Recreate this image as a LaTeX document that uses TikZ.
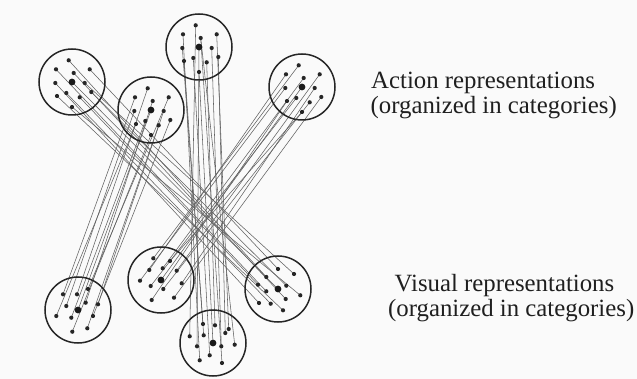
\documentclass[tikz,border=0pt]{standalone}
\usepackage{fontspec}
\setmainfont{Liberation Serif}
\usetikzlibrary{calc}
\tikzset{
  cat/.style={circle, draw=black!85, line width=1.5pt, minimum size=66pt, inner sep=0pt},
  link/.style={draw=black!62, line width=0.55pt},
  txt/.style={font=\fontsize{24.8}{25}\selectfont, anchor=base west, inner sep=0pt, text=black!88},
}
\newcommand\mkdots[3]{%
  \foreach \dx/\dy [count=\i] in {#3} {\coordinate (#1-\i) at ($(#2)+(\dx,\dy)$);}%
  \coordinate (#1-c) at (#2);}
\begin{document}
\begin{tikzpicture}[x=1pt,y=-1pt]
\fill[black!2] (0,0) rectangle (637,379);
\useasboundingbox (0,0) rectangle (637,379);
% centres
\coordinate (cA1) at (72,82);
\coordinate (cA2) at (151,110);
\coordinate (cA3) at (199,47);
\coordinate (cA4) at (302,87);
\coordinate (cV1) at (78,310);
\coordinate (cV2) at (161,280);
\coordinate (cV3) at (213,343);
\coordinate (cV4) at (278,289);
% dots
\foreach \n in {A1,A2,A3,A4}{\mkdots{\n}{c\n}{-3.3/-21.7,-16/-12.7,17.7/-12.7,1.7/-9,-16.7/1,12.7/1,-5.7/11,19.3/10,-15/14,7.7/15.3,0/25}}
\mkdots{V1}{cV1}{-15/-15.7,-1/-15.7,10/-21,-11.7/-4,7.7/-7.3,20/-5.7,-21.7/6,-6.7/7.7,15/6,-5.7/21.7,9.3/18.3}
\mkdots{V2}{cV2}{-7.7/-21.7,9/-19,-11.7/-10,1.7/-11.7,15.7/-9.3,-21/0.7,-10.3/6,2.3/9,20.7/3.3,-9.3/20,13/17.7}
\mkdots{V3}{cV3}{-10/-19,2/-17.7,15.7/-14,-23.3/-6.7,-9.3/-7.7,12.3/-10,-16/3.3,8.3/3.3,21.7/1.7,-3.3/12.3,-13.3/17.3,9/20}
\mkdots{V4}{cV4}{0/-20,16/-15,-11.7/-12,-20/-4.3,8.3/-3.3,-11.7/2.3,7.7/10,22.3/6.3,-19/14,-7.3/14.7,5/21.3}
% connectors
\foreach \a/\b in {1/3,2/6,3/1,4/7,5/9,6/2,7/10,8/5,9/11,10/4,11/8,c/c}
  \draw[link] (A1-\a) -- (V4-\b);
\foreach \a/\b in {1/2,2/1,3/3,4/5,5/4,6/6,7/8,8/9,9/7,10/11,11/10,c/c}
  \draw[link] (A2-\a) -- (V1-\b);
\foreach \a/\b in {5/1,2/11,9/5,7/10,1/4,11/c,c/7,4/12,10/2,6/8,3/3,8/6,4/9}
  \draw[link] (A3-\a) -- (V3-\b);
\foreach \a/\b in {1/1,2/3,3/5,4/4,5/6,6/9,7/7,8/11,9/10,10/8,11/2,c/c}
  \draw[link] (A4-\a) -- (V2-\b);
% dot marks
\foreach \n/\k in {A1/11,A2/11,A3/11,A4/11,V1/11,V2/11,V3/12,V4/11}{
  \foreach \i in {1,...,\k}{\fill[black!85] (\n-\i) circle[radius=2.1pt];}
  \fill[black!90] (\n-c) circle[radius=3.4pt];}
% category circles
\foreach \n in {A1,A2,A3,A4,V1,V2,V3,V4}{\node[cat] (\n) at (c\n) {};}
% labels
\node[txt] (act1) at (371,89) {Action representations};
\node[txt] (act2) at (370.5,114) {(organized in categories)};
\node[txt] (vis1) at (394.5,292) {Visual representations};
\node[txt] (vis2) at (388,316.5) {(organized in categories)};
\end{tikzpicture}
\end{document}
